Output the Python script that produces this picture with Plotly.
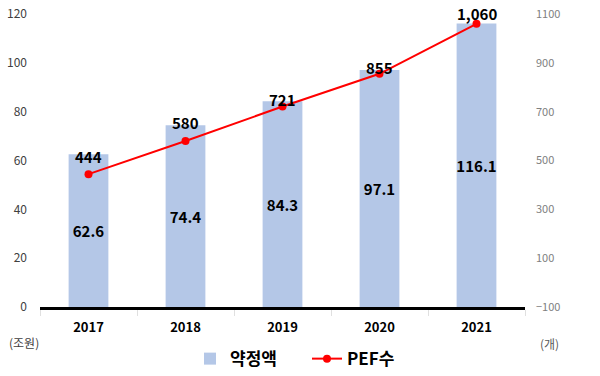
import plotly.graph_objects as go

years = ["2017", "2018", "2019", "2020", "2021"]
commitments = [62.6, 74.4, 84.3, 97.1, 116.1]   # 약정액 (조원)
pef_counts = [444, 580, 721, 855, 1060]          # PEF수 (개)
left_ticks = [0, 20, 40, 60, 80, 100, 120]
right_ticks = [-100, 100, 300, 500, 700, 900, 1100]

FONT = "Noto Sans CJK KR, Noto Sans, sans-serif"

fig = go.Figure()
fig.add_trace(go.Bar(
    x=years, y=commitments, name="약정액",
    marker=dict(color="#B4C7E7", line=dict(width=0)),
    width=0.41,
    texttemplate="%{y:.1f}", textposition="inside", insidetextanchor="middle",
    constraintext="none", textangle=0,
    textfont=dict(family=FONT, size=15, color="#000000", weight="bold"),
    yaxis="y",
))
fig.add_trace(go.Scatter(
    x=years, y=pef_counts, name="PEF수", mode="lines+markers",
    line=dict(color="#FF0000", width=2),
    marker=dict(color="#FF0000", size=8),
    yaxis="y2",
))

shifts = [-2, 3, 2, 2, 10]
for i, (c, n, s) in enumerate(zip(commitments, pef_counts, shifts)):
    fig.add_annotation(x=i, y=c, xref="x", yref="y", text=f"{n:,}",
                       showarrow=False, yshift=s, yanchor="middle",
                       font=dict(family=FONT, size=15, color="#000000", weight="bold"))

fig.add_annotation(x=(24 - 40) / 485, y=(376 - 342 - 69) / 293, xref="paper", yref="paper",
                   text="(조원)", showarrow=False, xanchor="center", yanchor="middle",
                   font=dict(family=FONT, size=12, color="#404040"))
fig.add_annotation(x=(549 - 40) / 485, y=(376 - 343 - 69) / 293, xref="paper", yref="paper",
                   text="(개)", showarrow=False, xanchor="center", yanchor="middle",
                   font=dict(family=FONT, size=12, color="#595959"))

fig.update_layout(
    width=600, height=376,
    margin=dict(l=40, r=75, t=14, b=69, autoexpand=False),
    paper_bgcolor="white", plot_bgcolor="white",
    font=dict(family=FONT),
    showlegend=True,
    legend=dict(orientation="h", x=(190 - 40) / 485, xanchor="left",
                y=0.045, yanchor="middle", yref="container",
                font=dict(family=FONT, size=17, color="#000000", weight="bold"),
                traceorder="normal", itemwidth=30,
                entrywidth=72, entrywidthmode="pixels"),
    xaxis=dict(type="category", categoryorder="array", categoryarray=years,
               range=[-0.5, 4.5], autorange=False, automargin=False,
               showline=True, linecolor="#000000", linewidth=3,
               showgrid=False, ticks="outside", tickson="boundaries",
               tickcolor="#E0E0E0", ticklen=6, ticklabelstandoff=6,
               tickfont=dict(family=FONT, size=13, color="#000000", weight="bold")),
    yaxis=dict(range=[0, 120], tickvals=left_ticks, showgrid=False, zeroline=False,
               showline=False, ticks="", ticklabelstandoff=12, automargin=False,
               tickfont=dict(family=FONT, size=12, color="#404040")),
    yaxis2=dict(range=[-100, 1100], tickvals=right_ticks, overlaying="y", side="right",
                showgrid=False, zeroline=False, showline=False, ticks="",
                ticklabelstandoff=10, automargin=False,
                tickfont=dict(family=FONT, size=11, color="#808080")),
)

fig.write_html("out.html", config={"displayModeBar": False},
               post_script="document.body.style.margin='0';")
